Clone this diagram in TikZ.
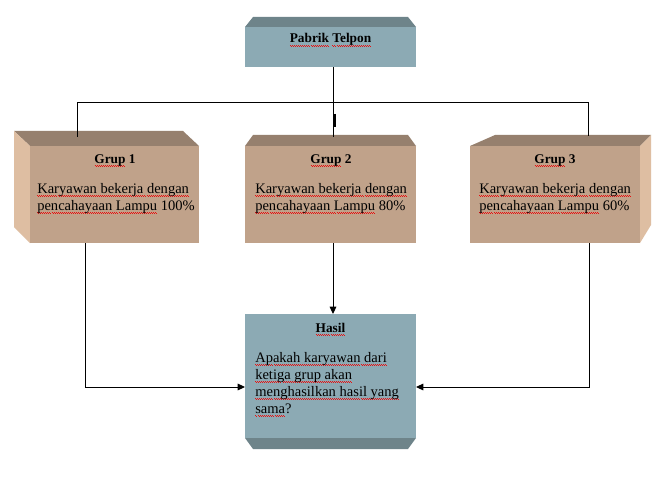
\documentclass[tikz,border=0pt]{standalone}
\usepackage{fontspec}
\setmainfont{Liberation Serif}
\usetikzlibrary{arrows.meta}
\definecolor{tanfront}{HTML}{C0A28A}
\definecolor{tantop}{HTML}{96806E}
\definecolor{tanside}{HTML}{DEBEA2}
\definecolor{bluefront}{HTML}{8CAAB4}
\definecolor{bluetop}{HTML}{6E848A}
\definecolor{squigred}{HTML}{E81010}
\newcommand\sqg[1]{\setbox0\hbox{#1}\rlap{\textcolor{squigred}{\hbox to\wd0{\xleaders\hbox{\rule[-2.1pt]{0.75pt}{0.6pt}\rule[-2.8pt]{0.75pt}{0.6pt}}\hfill}}}\box0\relax}
\begin{document}
\begin{tikzpicture}[x=0.75pt,y=-0.75pt,
  front/.style={inner sep=0pt, outer sep=0pt, draw=none},
  boxtitle/.style={font=\bfseries\fontsize{10}{12}\selectfont, inner sep=0pt, anchor=base},
  boxbody/.style={font=\fontsize{10.9}{12.75}\selectfont, inner sep=0pt, anchor=base west, align=left},
  link/.style={draw=black, line width=0.75pt},
  arrow/.style={link, -{Triangle[length=5.5pt,width=5pt]}}]
\path[use as bounding box, fill=white] (0,0) rectangle (668,478);

% ---- top box
\fill[bluetop] (245,27) -- (253,17) -- (408,17) -- (416,27) -- cycle;
\node[front, fill=bluefront, minimum width=128.25pt, minimum height=30pt] (top) at (330.5,47) {};
\node[boxtitle] (ttop) at (330.5,43) {\sqg{Pabrik} \sqg{Telpon}};

% ---- group 1
\fill[tantop] (14,131) -- (183,131) -- (199,146) -- (30,146) -- cycle;
\fill[tanside] (14,131) -- (30,146) -- (30,243) -- (14,227) -- cycle;
\node[front, fill=tanfront, minimum width=126.75pt, minimum height=72.75pt] (g1) at (114.5,194.5) {};
\node[boxtitle] (t1) at (115,163) {\sqg{Grup} 1};
\node[boxbody] (b1) at (37,210) {\sqg{Karyawan bekerja dengan}\\\sqg{pencahayaan Lampu} 100\%};

% ---- group 2
\fill[tantop] (245,146) -- (253,135) -- (408,135) -- (416,146) -- cycle;
\node[front, fill=tanfront, minimum width=128.25pt, minimum height=72.75pt] (g2) at (330.5,194.5) {};
\node[boxtitle] (t2) at (331,163) {\sqg{Grup} 2};
\node[boxbody] (b2) at (255,210) {\sqg{Karyawan bekerja dengan}\\\sqg{pencahayaan Lampu} 80\%};

% ---- group 3
\fill[tantop] (470,146) -- (495,135) -- (651,135) -- (640,146) -- cycle;
\fill[tanside] (640,146) -- (651,135) -- (651,225) -- (640,243) -- cycle;
\node[front, fill=tanfront, minimum width=127.5pt, minimum height=72.75pt] (g3) at (555,194.5) {};
\node[boxtitle] (t3) at (555,163) {\sqg{Grup} 3};
\node[boxbody] (b3) at (479,210) {\sqg{Karyawan bekerja dengan}\\\sqg{pencahayaan Lampu} 60\%};

% ---- result box
\fill[bluetop] (245,438) -- (416,438) -- (408,449) -- (253,449) -- cycle;
\node[front, fill=bluefront, minimum width=128.25pt, minimum height=93pt] (hasil) at (330.5,376) {};
\node[boxtitle] (th) at (330.5,332) {\sqg{Hasil}};
\node[boxbody] (bh) at (255,413) {\sqg{Apakah karyawan dari}\\\sqg{ketiga grup akan}\\\sqg{menghasilkan hasil yang}\\\sqg{sama}?};

% ---- connectors
\coordinate (j2) at (333,137);
\coordinate (c1) at (77,137);
\coordinate (c3) at (588,136);
\coordinate (bus1) at (77,103);
\coordinate (bus3) at (588,103);
\coordinate (mark1) at (335,114);
\coordinate (mark2) at (335,127);
\coordinate (o1) at (85,243);
\coordinate (o3) at (589,243);
\coordinate (in1) at (245,387);
\coordinate (in3) at (416,387);

\draw[link] (top.south -| j2) -- (j2);
\draw[link] (c1) -- (bus1) -- (bus3) -- (c3);
\draw[line width=1.6pt] (mark1) -- (mark2);
\draw[arrow] (g2.south -| j2) -- (hasil.north -| j2);
\draw[arrow] (o1) |- (in1);
\draw[arrow] (o3) |- (in3);
\end{tikzpicture}
\end{document}
